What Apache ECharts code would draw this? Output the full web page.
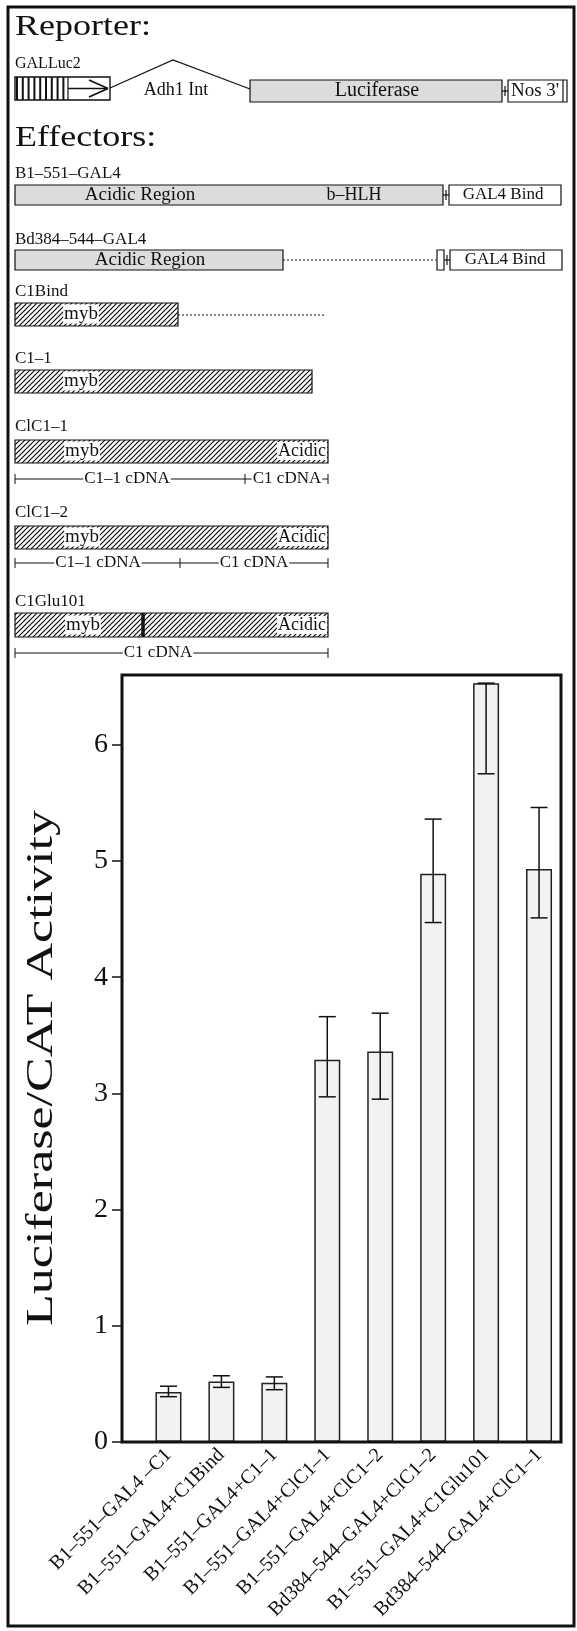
<!DOCTYPE html>
<html><head><meta charset="utf-8">
<script src="https://cdn.jsdelivr.net/npm/echarts@6/dist/echarts.min.js"></script>
<style>html,body{margin:0;padding:0;background:#fff}#c{width:577px;height:1631px}</style>
</head><body><div id="c"></div>
<script>
// ---- data ----
const categories = ['B1–551–GAL4 –C1', 'B1–551–GAL4+C1Bind', 'B1–551–GAL4+C1–1', 'B1–551–GAL4+ClC1–1',
  'B1–551–GAL4+ClC1–2', 'Bd384–544–GAL4+ClC1–2', 'B1–551–GAL4+C1Glu101', 'Bd384–544–GAL4+ClC1–1'];
const activity = [0.43, 0.52, 0.51, 3.29, 3.36, 4.89, 6.53, 4.93];
const errLow  = [0.39, 0.47, 0.45, 2.97, 2.95, 4.47, 5.75, 4.51];
const errHigh = [0.48, 0.57, 0.56, 3.66, 3.69, 5.36, 6.53, 5.46];
const yTicks = [0, 1, 2, 3, 4, 5, 6];
const yMax = 6.6;
const yTitle = 'Luciferase/CAT Activity';

// ---- schematic (layout only) ----
const INK = '#111';
const FONT = '"Liberation Serif", "DejaVu Serif", serif';
const STIPPLE = '#dcdcdc';
function hatchCanvas(){
  const c = document.createElement('canvas'); c.width = 5; c.height = 5;
  const g = c.getContext('2d'); g.fillStyle = '#fff'; g.fillRect(0,0,5,5);
  g.strokeStyle = '#000'; g.lineWidth = 1.1;
  [[-1,6,6,-1],[-1,1,1,-1],[4,6,6,4]].forEach(s=>{g.beginPath();g.moveTo(s[0],s[1]);g.lineTo(s[2],s[3]);g.stroke();});
  return c;
}
const HATCH = {image: hatchCanvas(), repeat: 'repeat'};
const G = [];
function R(x,y,w,h,fill,lw){G.push({type:'rect',z:1,shape:{x:x,y:y,width:w,height:h},style:{fill:fill||'#fff',stroke:INK,lineWidth:lw||1.2}});}
function L(x1,y1,x2,y2,lw,dash){G.push({type:'line',z:2,shape:{x1:x1,y1:y1,x2:x2,y2:y2},style:{stroke:INK,lineWidth:lw||1.2,lineDash:dash||null}});}
function T(x,y,s,size,align,opt){
  opt = opt||{};
  const st = {text:s,fill:INK,font:size+'px '+FONT,textAlign:align||'left',align:align||'left',textVerticalAlign:'middle',verticalAlign:'middle'};
  if(opt.bg){st.backgroundColor='#fff';st.padding=[0,1];}
  const el = {type:'text',z:3,x:x,y:y,style:st};
  if(opt.sx) el.scaleX = opt.sx;
  if(opt.rot) el.rotation = opt.rot;
  G.push(el);
}
function conn(x1,x2,y){L(x1,y,x2,y,1.2);L((x1+x2)/2,y-5,(x1+x2)/2,y+5,1.2);}
function dim(y,ticks){L(ticks[0],y,ticks[ticks.length-1],y,1);ticks.forEach(t=>L(t,y-5,t,y+5,1));}

// outer frame
G.push({type:'rect',z:0,shape:{x:8,y:7,width:566,height:1619},style:{fill:'none',stroke:INK,lineWidth:3}});

// Reporter
T(15,27,'Reporter:',30,'left',{sx:1.2});
T(15,64,'GALLuc2',16);
R(15,77,95,23,'#fff',1.4);
for(let i=0;i<9;i++){L(17+i*5.8,77,17+i*5.8,100,2);}
L(68,77,68,100,1.2);
L(68,88.5,107,88.5,1.4);
L(89,80,108,88.5,1.8);L(89,97,108,88.5,1.8);
G.push({type:'polyline',z:2,shape:{points:[[110,88],[173,60],[250,89]]},style:{stroke:INK,lineWidth:1.2,fill:null}});
T(176,90,'Adh1 Int',18,'center');
R(250,80,252,22,STIPPLE);
T(377,91,'Luciferase',20,'center');
conn(502,508,91);
R(508,80,59,22,'#fff');
L(563,80,563,102,1.2);
T(511,91,"Nos 3'",19,'left');

// Effectors
T(15,138,'Effectors:',30,'left',{sx:1.2});
T(15,174,'B1–551–GAL4',17);
R(15,185,428,20,STIPPLE);
T(140,195,'Acidic Region',19,'center');
T(354,195,'b–HLH',18,'center');
conn(443,449,195);
R(449,185,112,20,'#fff');
T(503,195,'GAL4 Bind',17,'center');

T(15,240,'Bd384–544–GAL4',17);
R(15,250,268,20,STIPPLE);
T(150,260,'Acidic Region',19,'center');
L(283,260,436,260,1,[2,2]);
R(437,250,7,20,'#fff');
conn(444,450,260);
R(450,250,112,20,'#fff');
T(505,260,'GAL4 Bind',17,'center');

T(15,292,'C1Bind',17);
R(15,303,163,23,HATCH);
T(81,314,'myb',19,'center',{bg:true});
L(178,315,326,315,1,[2,2]);

T(15,359,'C1–1',17);
R(15,370,297,23,HATCH);
T(81,381,'myb',19,'center',{bg:true});

T(15,427,'ClC1–1',17);
R(15,440,313,23,HATCH);
T(82,451,'myb',19,'center',{bg:true});
T(327,451,'Acidic',18,'right',{bg:true});
dim(479,[15,245,328]);
T(127,479,'C1–1 cDNA',17,'center',{bg:true});
T(287,479,'C1 cDNA',17,'center',{bg:true});

T(15,513,'ClC1–2',17);
R(15,526,313,23,HATCH);
T(82,537,'myb',19,'center',{bg:true});
T(327,537,'Acidic',18,'right',{bg:true});
dim(563,[15,180,328]);
T(98,563,'C1–1 cDNA',17,'center',{bg:true});
T(254,563,'C1 cDNA',17,'center',{bg:true});

T(15,602,'C1Glu101',17);
R(15,613,313,24,HATCH);
L(143,613,143,637,3.5);
T(83,625,'myb',19,'center',{bg:true});
T(327,625,'Acidic',18,'right',{bg:true});
dim(653,[15,328]);
T(158,653,'C1 cDNA',17,'center',{bg:true});

// plot frame and y title
G.push({type:'rect',z:10,shape:{x:122,y:675,width:439,height:767},style:{fill:'none',stroke:INK,lineWidth:3}});
T(42,1068,yTitle,38,'center',{sx:1.37,rot:Math.PI/2});

// ---- chart ----
const chart = echarts.init(document.getElementById('c'), null, {renderer:'canvas', width:577, height:1631});
chart.setOption({
  animation:false,
  backgroundColor:'#fff',
  graphic:{elements:G},
  grid:{left:142, right:11.5, top:675, bottom:189, containLabel:false},
  xAxis:{type:'category', data:categories, axisLine:{show:false}, axisTick:{show:false},
    axisLabel:{interval:0, rotate:45, margin:10, fontSize:20, fontFamily:FONT, color:INK}},
  yAxis:{type:'value', min:0, max:yMax, interval:1, offset:20, splitLine:{show:false}, axisLine:{show:false},
    axisTick:{show:true, length:10, customValues:yTicks, lineStyle:{color:INK, width:1.5}},
    axisLabel:{customValues:yTicks, fontSize:28, fontFamily:FONT, color:INK, margin:14}},
  series:[
    {type:'bar', data:activity, barWidth:26, itemStyle:{color:'#f2f2f2', borderColor:'#222', borderWidth:1.5}, z:2},
    {type:'custom', z:5, data:categories.map((c,i)=>[i, errLow[i], errHigh[i]]),
      renderItem:function(params, api){
        const i = api.value(0);
        const lo = api.coord([i, api.value(1)]), hi = api.coord([i, api.value(2)]);
        const hw = 8.5, st = {stroke:INK, lineWidth:1.5};
        return {type:'group', children:[
          {type:'line', shape:{x1:lo[0],y1:lo[1],x2:hi[0],y2:hi[1]}, style:st},
          {type:'line', shape:{x1:lo[0]-hw,y1:lo[1],x2:lo[0]+hw,y2:lo[1]}, style:st},
          {type:'line', shape:{x1:hi[0]-hw,y1:hi[1],x2:hi[0]+hw,y2:hi[1]}, style:st}
        ]};
      }}
  ]
});
</script></body></html>
